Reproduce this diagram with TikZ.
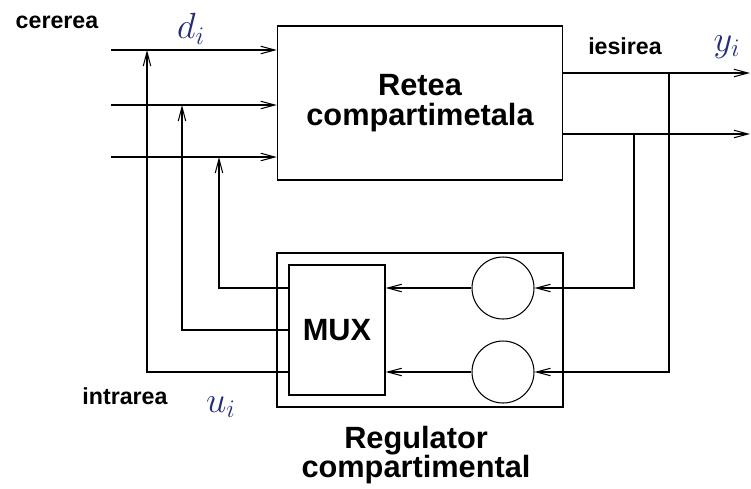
\documentclass[tikz,border=0pt]{standalone}
\usepackage{fontspec}
\setmainfont{Liberation Sans}
\usetikzlibrary{arrows.meta}
\definecolor{lblblue}{RGB}{35,45,120}

\begin{document}
\begin{tikzpicture}[x=0.02cm,y=-0.02cm,line width=0.8pt,
		>={Straight Barb[length=2.8mm,width=1.5mm,line width=0.6pt]},
		blok/.style={draw, rectangle, inner sep=0pt},
		cerc/.style={draw, circle, minimum size=1.24cm, inner sep=0pt, line width=0.6pt},
		lbl/.style={font=\fontsize{13.2}{13.2}\selectfont\bfseries},
		titlu/.style={font=\fontsize{17.5}{17}\selectfont\bfseries, align=center},
		var/.style={text=lblblue, font=\fontsize{20}{20}\selectfont}]
			\useasboundingbox (0,0) rectangle (751,488);
			
			% blocuri
			\node[blok, titlu, minimum width=5.7cm, minimum height=3.08cm] (retea) at (420,103) {Retea\\compartimetala};
			\node[blok, minimum width=5.72cm, minimum height=3.08cm] (reg) at (420,330) {};
			\node[blok, titlu, minimum width=1.92cm, minimum height=2.6cm] (mux) at (337,330) {MUX};
			\node[cerc] (k1) at (503,288) {};
			\node[cerc] (k2) at (503,372) {};
			\node[titlu] (regtxt) at (416,455) {Regulator\\compartimental};
			
			% etichete
			\node[lbl] (cer) at (57,22) {cererea};
			\node[lbl] (ies) at (625,46) {iesirea};
			\node[lbl] (intr) at (125,396) {intrarea};
			\node[var] (d) at (191,29) {$d_i$};
			\node[var] (y) at (727,47) {$y_i$};
			\node[var] (u) at (221,407) {$u_i$};
			
			% intrari
			\coordinate (c1) at (111,50);
			\coordinate (c2) at (111,105);
			\coordinate (c3) at (111,157);
			\draw[->] (c1) -- (c1 -| retea.west);
			\draw[->] (c2) -- (c2 -| retea.west);
			\draw[->] (c3) -- (c3 -| retea.west);
			
			% comenzi de la MUX
			\coordinate (u1) at (147,50);
			\coordinate (u2) at (182,105);
			\coordinate (u3) at (219,157);
			\draw[->] (mux.west |- k1) -| (u3);
			\draw[->] (mux.west) -| (u2);
			\draw[->] (mux.west |- k2) -| (u1);
			\draw[->] (k1.west) -- (k1.west -| mux.east);
			\draw[->] (k2.west) -- (k2.west -| mux.east);
			
			% iesiri
			\coordinate (y1) at (750,73);
			\coordinate (y2) at (750,134);
			\draw[->] (y1 -| retea.east) -- (y1);
			\draw[->] (y2 -| retea.east) -- (y2);
			\coordinate (t1) at (669,73);
			\coordinate (t2) at (634,134);
			\draw[->] (t1) |- (k2.east);
			\draw[->] (t2) |- (k1.east);
		\end{tikzpicture}
\end{document}
